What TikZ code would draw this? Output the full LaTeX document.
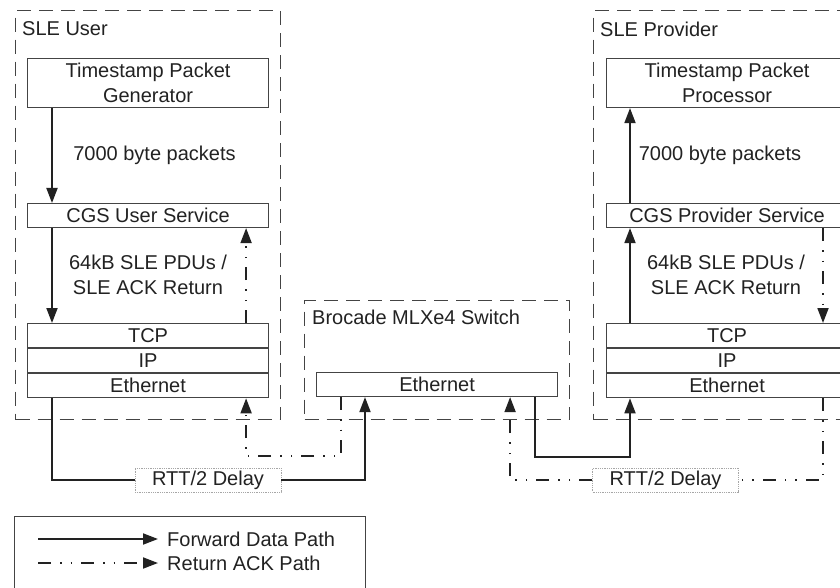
\documentclass[tikz,border=0pt]{standalone}
\usepackage{fontspec}
\setmainfont{Liberation Sans}
\usepackage{xcolor}
\definecolor{ink}{RGB}{34,34,34}
\definecolor{edge}{RGB}{68,68,68}
\usetikzlibrary{arrows.meta, positioning}

\begin{document}
\begin{tikzpicture}[
  x=1pt, y=-1pt,
  font=\fontsize{20}{25}\selectfont, text=ink,
  zone/.style    = {rectangle, draw=edge, line width=1.3pt,
                    dash pattern=on 14pt off 8pt, anchor=north west, inner sep=0pt},
  blk/.style     = {rectangle, draw=edge, line width=1.1pt, fill=white,
                    minimum width=241pt, inner sep=0pt, align=center},
  layer/.style   = {blk, minimum height=24pt},
  delay/.style   = {rectangle, draw=gray!70, densely dotted, line width=0.8pt,
                    fill=white, minimum width=146pt, minimum height=24pt, inner sep=0pt},
  tag/.style     = {anchor=west, inner sep=0pt},
  fwdline/.style = {line width=1.8pt, draw=ink},
  retline/.style = {line width=1.8pt, draw=ink,
                    dash pattern=on 13pt off 9pt on 1.5pt off 9pt on 1.5pt off 9pt},
  fwd/.style     = {fwdline, -{Triangle[length=15pt,width=11pt]}},
  ret/.style     = {retline, -{Triangle[length=15pt,width=11pt]}},
]
\useasboundingbox (0,0) rectangle (840,588);
\clip (0,0) rectangle (840,588);
\fill[white] (0,0) rectangle (840,588);

% containers
\node[zone, minimum width=265pt, minimum height=409pt] (user)   at (15,10)  {};
\node[zone, minimum width=265pt, minimum height=119pt] (switch) at (304,300) {};
\node[zone, minimum width=265pt, minimum height=409pt] (prov)   at (593,10) {};
\node[tag] (userlbl) at (22,29)   {SLE User};
\node[tag] (provlbl) at (600,29)  {SLE Provider};
\node[tag] (swlbl)   at (312,317) {Brocade MLXe4 Switch};

% user side
\node[blk, minimum height=49pt, anchor=north west] (gen) at (27,58) {Timestamp Packet\\Generator};
\node[layer, anchor=north west] (cgsu) at (27,203) {CGS User Service};
\node[layer, anchor=north west] (tcpu) at (27,323) {TCP};
\node[layer, below=0pt of tcpu] (ipu)  {IP};
\node[layer, below=0pt of ipu]  (ethu) {Ethernet};
\node (pktu) at (154.5,155) {7000 byte packets};
\node[align=center] (pduu) at (148,274.5) {64kB SLE PDUs /\\SLE ACK Return};

% switch
\node[layer, anchor=north west] (eths) at (316,372) {Ethernet};

% provider side
\node[blk, minimum height=49pt, anchor=north west] (proc) at (606,58) {Timestamp Packet\\Processor};
\node[layer, anchor=north west] (cgsp) at (606,203) {CGS Provider Service};
\node[layer, anchor=north west] (tcpp) at (606,323) {TCP};
\node[layer, below=0pt of tcpp] (ipp)  {IP};
\node[layer, below=0pt of ipp]  (ethp) {Ethernet};
\node (pktp) at (720,155) {7000 byte packets};
\node[align=center] (pdup) at (726,274.5) {64kB SLE PDUs /\\SLE ACK Return};

% delays
\node[delay] (dly1) at (208,480)   {RTT/2 Delay};
\node[delay] (dly2) at (665.5,480) {RTT/2 Delay};

% user stack
\draw[fwd] ([xshift=25pt]gen.south west)  -- ([xshift=25pt]cgsu.north west);
\draw[fwd] ([xshift=25pt]cgsu.south west) -- ([xshift=25pt]tcpu.north west);
\draw[ret] ([xshift=-23pt]tcpu.north east) -- ([xshift=-23pt]cgsu.south east);

% provider stack
\draw[fwd] ([xshift=24pt]cgsp.north west) -- ([xshift=24pt]proc.south west);
\draw[fwd] ([xshift=24pt]tcpp.north west) -- ([xshift=24pt]cgsp.south west);
\draw[ret] ([xshift=217pt]cgsp.south west) -- ([xshift=217pt]tcpp.north west);

% links
\draw[fwdline] ([xshift=25pt]ethu.south west) |- (dly1.west);
\draw[fwd] (dly1.east) -| ([xshift=49pt]eths.south west);
\draw[ret] ([xshift=25pt]eths.south west) -- ++(0,59) -| ([xshift=-23pt]ethu.south east);
\draw[fwd] ([xshift=-23pt]eths.south east) -- ++(0,60) -| ([xshift=24pt]ethp.south west);
\draw[retline] ([xshift=217pt]ethp.south west) |- (dly2.east);
\draw[ret] (dly2.west) -| ([xshift=-48pt]eths.south east);

% legend
\node[rectangle, draw=edge, line width=1.1pt, anchor=north west,
      minimum width=351pt, minimum height=100pt] (legend) at (14,516) {};
\node[tag] (lgfwd) at (167,539) {Forward Data Path};
\node[tag] (lgret) at (167,563) {Return ACK Path};
\coordinate (lgs1) at (38,539);
\coordinate (lgs2) at (38,563);
\draw[fwd] (lgs1) -- ([xshift=-9pt]lgfwd.west);
\draw[ret] (lgs2) -- ([xshift=-9pt]lgret.west);
\end{tikzpicture}
\end{document}
